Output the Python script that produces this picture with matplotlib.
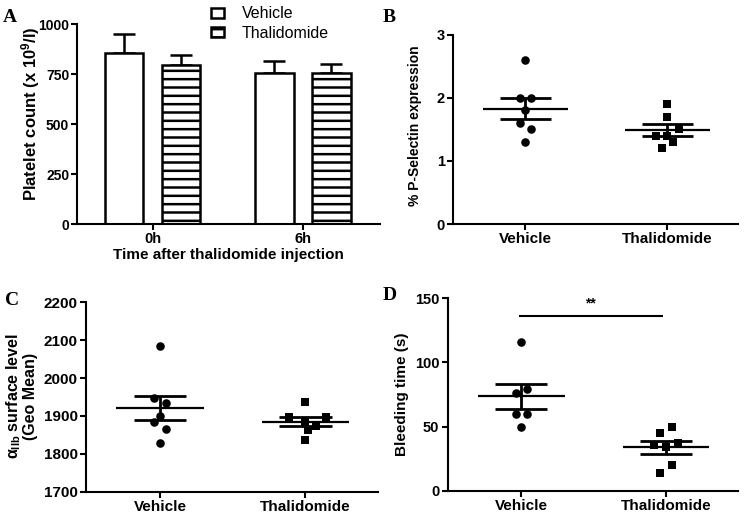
import numpy as np
import matplotlib
import matplotlib.pyplot as plt
from matplotlib.patches import Patch
matplotlib.use('Agg')

plt.rcParams['font.family'] = ['Liberation Sans', 'DejaVu Sans']
plt.rcParams['hatch.linewidth'] = 1.8
plt.rcParams['mathtext.default'] = 'regular'

# panel A: platelet count, mean + SEM
time_points = ['0h', '6h']
vehicle_count = [856, 756]
vehicle_count_err = [97, 59]
thal_count = [798, 756]
thal_count_err = [47, 47]

groups = ['Vehicle', 'Thalidomide']

# panel B: % P-Selectin expression
psel_vehicle = [2.6, 2.0, 2.0, 1.8, 1.6, 1.5, 1.3]
psel_thal = [1.9, 1.7, 1.5, 1.4, 1.4, 1.3, 1.2]

# panel C: alpha IIb surface level (geo mean)
aiib_vehicle = [2085, 1948, 1933, 1901, 1883, 1866, 1829]
aiib_thal = [1938, 1898, 1896, 1885, 1874, 1863, 1837]

# panel D: bleeding time (s)
bleed_vehicle = [116, 76, 79, 60, 60, 50]
bleed_thal = [50, 45, 36, 34, 37, 20, 14]

# horizontal jitter of the dots (data units)
jit_psel_v = [0, -0.04, 0.04, 0, -0.04, 0.04, 0]
jit_psel_t = [0, 0, 0.08, -0.08, 0, 0.04, -0.04]
jit_aiib_v = [0, -0.04, 0.04, 0, -0.04, 0.04, 0]
jit_aiib_t = [0, -0.11, 0.14, 0, 0.07, 0.02, 0]
jit_bleed_v = [0, -0.04, 0.04, -0.04, 0.04, 0]
jit_bleed_t = [0.04, -0.04, -0.08, 0, 0.08, 0.04, -0.04]

LW = 1.5
fig = plt.figure(figsize=(7.45, 5.15), dpi=100)


def style(ax):
    ax.spines['top'].set_visible(False)
    ax.spines['right'].set_visible(False)
    ax.spines['left'].set_linewidth(LW)
    ax.spines['bottom'].set_linewidth(LW)
    ax.tick_params(width=LW, length=4, direction='out', pad=2)
    for t in ax.get_yticklabels() + ax.get_xticklabels():
        t.set_fontweight('bold')


def dotplot(ax, vals_list, jits, markers):
    for i, (vals, jit, m) in enumerate(zip(vals_list, jits, markers)):
        x = i + np.array(jit)
        ax.scatter(x, vals, marker=m, s=38 if m == 'o' else 34, color='black', zorder=3, linewidths=0)
        mean = np.mean(vals)
        sem = np.std(vals, ddof=1) / np.sqrt(len(vals))
        ax.hlines(mean, i - 0.3, i + 0.3, color='black', lw=1.6, zorder=4)
        ax.hlines([mean - sem, mean + sem], i - 0.18, i + 0.18, color='black', lw=2, zorder=4)
        ax.vlines(i, mean - sem, mean + sem, color='black', lw=2, zorder=4)
    ax.set_xlim(-0.51, 1.5)
    ax.set_xticks([0, 1])
    ax.set_xticklabels(groups, fontsize=11)


# ---- A
axA = fig.add_axes([0.104, 0.565, 0.406, 0.388])
x = np.arange(len(time_points))
w = 0.255
axA.bar(x - 0.19, vehicle_count, w, color='white', edgecolor='black', lw=1.8, zorder=2)
axA.bar(x + 0.19, thal_count, w, color='white', edgecolor='black', lw=1.8, hatch='--', zorder=2)
axA.errorbar(x - 0.19, vehicle_count, yerr=[[0, 0], vehicle_count_err], fmt='none',
             ecolor='black', elinewidth=1.8, capsize=8, capthick=1.8, zorder=1)
axA.errorbar(x + 0.19, thal_count, yerr=[[0, 0], thal_count_err], fmt='none',
             ecolor='black', elinewidth=1.8, capsize=8, capthick=1.8, zorder=1)
axA.set_xlim(-0.502, 1.513)
axA.set_ylim(0, 1000)
axA.set_yticks([0, 250, 500, 750, 1000])
axA.set_xticks(x)
axA.set_xticklabels(time_points, fontsize=10.5)
axA.tick_params(axis='y', labelsize=10)
axA.set_xlabel('Time after thalidomide injection', fontsize=11, fontweight='bold', labelpad=1)
axA.set_ylabel('Platelet count (x 10$^9$/l)', fontsize=12, fontweight='bold')
axA.yaxis.set_label_coords(-0.118, 0.55)
style(axA)
handles = [Patch(facecolor='white', edgecolor='black', lw=1.8, label='Vehicle'),
           Patch(facecolor='white', edgecolor='black', lw=1.8, hatch='--', label='Thalidomide')]
axA.legend(handles=handles, loc='upper left', bbox_to_anchor=(0.44, 1.09), frameon=False,
           fontsize=11.5, handlelength=0.85, handleheight=0.6, handletextpad=1.1,
           labelspacing=0.3, borderpad=0, borderaxespad=0)

# ---- B
axB = fig.add_axes([0.608, 0.565, 0.383, 0.368])
dotplot(axB, [psel_vehicle, psel_thal], [jit_psel_v, jit_psel_t], ['o', 's'])
axB.set_ylim(0, 3)
axB.set_yticks([0, 1, 2, 3])
axB.tick_params(axis='y', labelsize=10.5)
axB.set_ylabel('% P-Selectin expression', fontsize=10, fontweight='bold')
axB.yaxis.set_label_coords(-0.11, 0.52)
style(axB)

# ---- C
axC = fig.add_axes([0.1154, 0.0452, 0.392, 0.3678])
dotplot(axC, [aiib_vehicle, aiib_thal], [jit_aiib_v, jit_aiib_t], ['o', 's'])
axC.set_ylim(1700, 2200)
axC.set_yticks([1700, 1800, 1900, 2000, 2100, 2200])
axC.tick_params(axis='y', labelsize=11)
axC.set_ylabel('$\\alpha_{IIb}$ surface level\n(Geo Mean)', fontsize=11.5, fontweight='bold',
               linespacing=1.0)
axC.yaxis.set_label_coords(-0.164, 0.505)
style(axC)

# ---- D
axD = fig.add_axes([0.601, 0.0472, 0.390, 0.3736])
dotplot(axD, [bleed_vehicle, bleed_thal], [jit_bleed_v, jit_bleed_t], ['o', 's'])
axD.set_ylim(0, 150)
axD.set_yticks([0, 50, 100, 150])
axD.tick_params(axis='y', labelsize=10.5)
axD.set_ylabel('Bleeding time (s)', fontsize=11, fontweight='bold')
axD.yaxis.set_label_coords(-0.133, 0.5)
axD.hlines(136.5, -0.02, 0.98, color='black', lw=1.5, clip_on=False)
axD.text(0.48, 146, '**', ha='center', va='center', fontsize=10, fontweight='bold')
style(axD)

# panel letters
for lab, (px, py) in zip('ABCD', [(3, 22), (383, 22), (5, 305), (383, 300)]):
    fig.text(px / 745, 1 - py / 515, lab, fontsize=14, fontweight='bold',
             family=['Liberation Serif', 'DejaVu Serif'], ha='left', va='baseline')

fig.savefig('out.png', dpi=100)
